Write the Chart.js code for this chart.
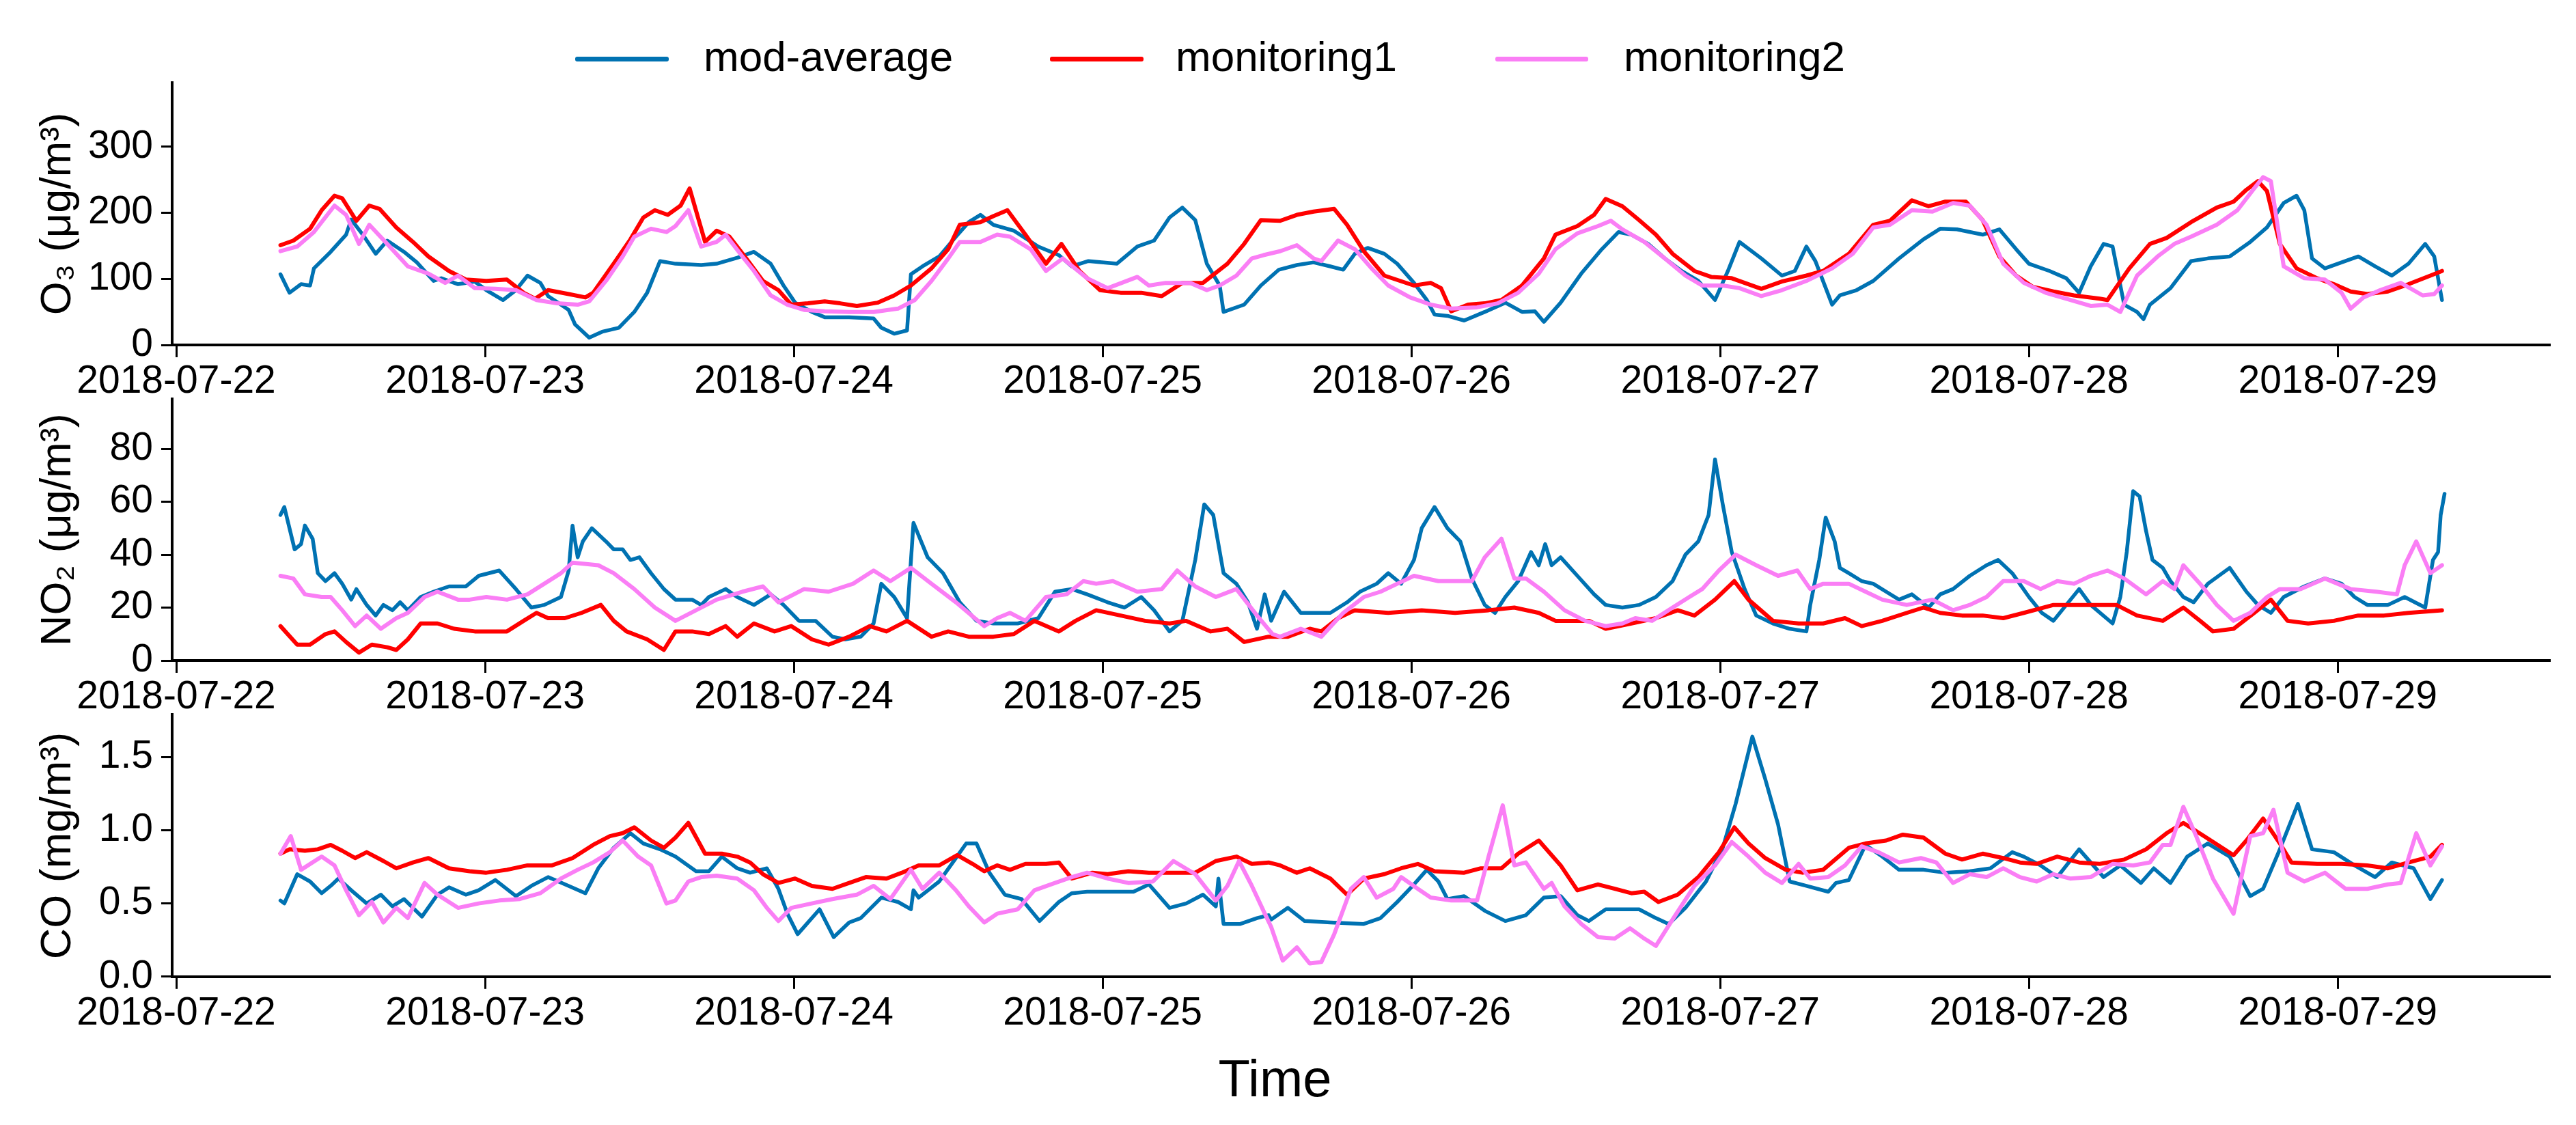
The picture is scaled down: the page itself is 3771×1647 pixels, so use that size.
<!DOCTYPE html>
<html><head><meta charset="utf-8">
<script src="https://cdn.jsdelivr.net/npm/chart.js@4.4.1/dist/chart.umd.min.js"></script>
<style>
html,body{margin:0;padding:0;background:#fff;}
#wrap{position:relative;width:3771px;height:1647px;overflow:hidden;background:#fff;font-family:"Liberation Sans",Arial,sans-serif;}
.cv{position:absolute;left:0;}
.lgl{position:absolute;height:7px;border-radius:3px;top:83px;}
.lgt{position:absolute;top:52px;font-size:62px;line-height:62px;color:#000;white-space:nowrap;}
</style></head><body>
<div id="wrap">
  <div class="lgl" style="left:842px;width:137px;background:#0072B2"></div>
  <div class="lgt" style="left:1030px">mod-average</div>
  <div class="lgl" style="left:1537px;width:137px;background:#FF0000"></div>
  <div class="lgt" style="left:1721px">monitoring1</div>
  <div class="lgl" style="left:2189px;width:136px;background:#FA7EF5"></div>
  <div class="lgt" style="left:2377px">monitoring2</div>
  <canvas id="c1" class="cv" width="3771" height="515" style="top:75px"></canvas>
  <canvas id="c2" class="cv" width="3771" height="514" style="top:538px"></canvas>
  <canvas id="c3" class="cv" width="3771" height="647" style="top:1000px"></canvas>
</div>
<script>
// x axis: hours since 2018-07-22 00:00
const xTickValues = [0, 24, 48, 72, 96, 120, 144, 168];
const xTickLabels = ['2018-07-22','2018-07-23','2018-07-24','2018-07-25','2018-07-26','2018-07-27','2018-07-28','2018-07-29'];
const seriesNames = ['mod-average', 'monitoring1', 'monitoring2'];
const seriesColors = ['#0072B2', '#FF0000', '#FA7EF5'];

// O3 (µg/m3)  [hour, value]
const o3Mod = [[8.1,107],[8.8,79],[9.7,92],[10.4,90],[10.7,116],[12,141],[13.2,167],[13.6,190],[14.5,167],[15.5,138],[16.4,158],[17.7,141],[18.7,125],[20,97],[20.6,101],[21.9,92],[23.2,96],[24.1,83],[25.4,68],[26.4,83],[27.3,105],[28.3,94],[28.9,74],[29.9,61],[30.5,53],[31,31],[32.1,11],[33.1,20],[34.4,26],[35.6,50],[36.6,79],[37.6,127],[38.8,123],[40.8,121],[42,123],[43.6,132],[44.9,141],[46.2,123],[47.2,90],[48.1,64],[49.4,50],[50.4,42],[52.3,42],[54.2,40],[54.8,26],[55.8,17],[56.8,22],[57.1,107],[58,119],[59.3,134],[60.6,164],[61.6,186],[62.5,197],[63.5,182],[65.1,173],[67,149],[68.6,136],[69.6,119],[70.9,127],[73.1,123],[74.7,149],[76,158],[77.2,193],[78.2,208],[79.2,189],[80.1,123],[81.1,90],[81.4,50],[83,61],[84.3,90],[85.7,114],[87.1,121],[88.4,125],[89.7,119],[90.7,114],[91.6,138],[92.6,147],[93.9,138],[94.9,123],[96.2,94],[97.2,68],[97.8,46],[98.8,44],[100.1,37],[101.7,50],[103.3,64],[104.6,50],[105.6,51],[106.3,35],[107.6,64],[109.2,108],[110.8,145],[112.1,171],[113.1,167],[114.4,153],[115.7,131],[117,112],[118.3,97],[119.6,68],[120.6,112],[121.5,156],[123.2,131],[124.8,105],[125.8,112],[126.7,149],[127.4,127],[128.7,61],[129.3,75],[130.6,83],[131.9,97],[133.9,131],[135.8,160],[137.1,176],[138.4,175],[140.4,167],[141.7,175],[143,145],[144,123],[145.6,112],[146.9,101],[147.9,79],[148.8,119],[149.8,153],[150.5,149],[151.4,61],[152.4,50],[152.9,39],[153.4,61],[155,86],[156.6,127],[157.9,131],[159.6,134],[161.2,156],[162.5,178],[163.8,215],[164.8,226],[165.4,204],[166,131],[167,116],[168.3,125],[169.6,134],[170.9,119],[172.2,105],[173.5,123],[174.8,153],[175.5,134],[176.1,68]];
const o3Mon1 = [[8.1,151],[9.1,158],[10.4,176],[11.3,204],[12.3,226],[12.9,222],[14,188],[15,211],[15.8,206],[17.1,178],[18.4,156],[19.6,134],[21.2,112],[22.5,99],[24.1,97],[25.7,99],[27,79],[27.9,70],[28.9,83],[30.5,77],[31.8,72],[32.4,79],[34,123],[35.3,160],[36.3,193],[37.2,204],[38.2,197],[39.2,211],[39.9,237],[41.1,156],[42,173],[43,164],[44.3,131],[45.6,97],[46.8,83],[47.8,61],[49.1,63],[50.4,66],[51.6,63],[52.9,59],[54.5,64],[55.8,75],[57.1,90],[58.7,116],[60,145],[60.9,182],[62.5,186],[63.5,195],[64.6,204],[66,167],[67.6,123],[68.8,153],[70.2,112],[71.8,83],[73.4,79],[75,79],[76.6,74],[78.2,94],[79.8,94],[81.7,123],[83,153],[84.3,189],[85.8,188],[87.1,197],[88.4,202],[90,206],[91,182],[92.3,142],[93.9,105],[96.2,90],[97.5,94],[98.3,86],[99.1,51],[100.4,61],[101.7,63],[103,68],[104.6,90],[106.3,131],[107.2,167],[108.9,180],[110.2,197],[111.1,221],[112.4,210],[113.7,189],[115,167],[116.3,138],[118,112],[119.3,103],[120.9,101],[123.2,85],[124.8,96],[126.7,105],[128,112],[130,138],[131.9,182],[133.2,188],[134.9,219],[136.2,210],[137.5,217],[139.1,217],[140.4,189],[141.7,134],[143,105],[144.3,88],[145.9,81],[147.5,75],[149.5,70],[150.1,68],[151.8,116],[153.4,153],[154.7,162],[156.6,186],[158.6,208],[159.9,217],[160.9,235],[161.8,248],[162.5,233],[163.5,153],[164.8,116],[166.4,101],[167.7,92],[169,81],[170.3,77],[171.9,81],[173.5,92],[175.2,105],[176.1,112]];
const o3Mon2 = [[8.1,142],[9.4,149],[10.7,171],[12.3,211],[13.2,197],[14.2,153],[15,182],[16.4,153],[18,119],[19.6,108],[20.9,94],[21.9,105],[23.2,86],[24.8,85],[26.4,83],[28,68],[29.6,63],[31.2,61],[32.1,66],[33.4,97],[34.7,134],[35.6,164],[36.9,176],[38.1,171],[38.8,180],[39.8,204],[40.8,149],[42,156],[42.7,167],[44,134],[44.9,112],[46.2,75],[47.5,61],[48.8,53],[50.4,51],[52.3,50],[54.2,50],[56.1,55],[57.4,68],[58.7,97],[60,131],[60.9,156],[62.5,156],[63.8,167],[64.8,164],[66.4,145],[67.6,112],[68.9,131],[70.8,101],[72.4,86],[74.7,103],[75.6,90],[76.9,94],[78.8,94],[80.1,83],[81.1,90],[82.4,105],[83.6,131],[84.5,136],[85.8,142],[87.1,151],[88.4,131],[89,127],[90.3,158],[91.6,145],[92.9,116],[94.2,90],[95.9,72],[97.5,61],[99.1,55],[101.1,57],[102.7,63],[104.3,79],[105.9,108],[107.2,145],[108.9,169],[110.5,180],[111.5,188],[112.4,175],[114.1,156],[115.7,131],[117.3,105],[118.6,90],[120.2,90],[121.5,86],[123.2,74],[124.8,83],[126.7,97],[128.7,116],[130.3,138],[131.9,178],[133.2,182],[134.9,204],[136.5,202],[138.1,215],[139.4,211],[140.7,182],[142,123],[143.6,94],[145.3,79],[146.9,70],[148.8,59],[150.1,61],[151.1,50],[152.4,105],[154,134],[155.3,153],[156.6,164],[158.6,182],[160.2,204],[161.5,237],[162.2,254],[162.8,248],[163.8,119],[165.4,101],[167,99],[168.3,79],[169,55],[170,72],[171.3,83],[172.9,94],[174.6,75],[175.5,77],[176.1,90]];

// NO2 (µg/m3)
const no2Mod = [[8.1,55],[8.4,58],[9.2,42],[9.7,44],[10,51],[10.6,46],[11,33],[11.6,30],[12.3,33],[12.9,29],[13.6,23],[14,27],[14.8,21],[15.5,17],[16.1,21],[16.8,19],[17.4,22],[18,19],[19,24],[20,26],[21.2,28],[22.5,28],[23.5,32],[25.1,34],[26.4,27],[27.6,20],[28.6,21],[29.9,24],[30.5,34],[30.8,51],[31.2,39],[31.6,45],[32.3,50],[33.4,45],[34,42],[34.7,42],[35.3,38],[36,39],[36.9,33],[37.9,27],[38.8,23],[40.1,23],[40.8,21],[41.4,24],[42.7,27],[43.6,24],[44.9,21],[46.2,25],[47.2,21],[48.4,15],[49.7,15],[51,9],[52,8],[53.2,9],[54.2,14],[54.8,29],[55.8,24],[56.8,16],[57.3,52],[58.4,39],[59.6,33],[60.9,22],[62.2,15],[63.5,14],[65.4,14],[67,16],[68.3,26],[69.6,27],[70.8,25],[72.4,22],[73.7,20],[75,24],[76,19],[77.2,11],[78.2,15],[79.2,38],[79.9,59],[80.6,55],[81.4,33],[82.4,29],[83.3,22],[84,12],[84.6,25],[85.1,15],[86.1,26],[87.4,18],[89.7,18],[91,22],[92,26],[93.3,29],[94.2,33],[95.2,29],[96.2,38],[96.8,50],[97.8,58],[98.8,50],[99.8,45],[100.7,31],[101.7,21],[102.5,18],[103.3,24],[104.3,30],[105.3,41],[105.9,36],[106.4,44],[106.9,36],[107.6,39],[108.9,32],[110.2,25],[111.1,21],[112.4,20],[113.7,21],[115,24],[116.3,30],[117.3,40],[118.3,45],[119.1,55],[119.6,76],[120.2,59],[120.9,41],[121.9,27],[122.8,17],[124.1,14],[125.4,12],[126.7,11],[127,21],[127.7,38],[128.2,54],[128.9,45],[129.3,35],[130,33],[131,30],[131.9,29],[132.9,26],[133.9,23],[134.9,25],[136.2,20],[137.1,25],[138.1,27],[139.4,32],[140.7,36],[141.6,38],[142.7,33],[144,24],[145,18],[145.9,15],[146.9,21],[147.9,27],[148.8,21],[150.5,14],[151.1,24],[151.6,41],[152.1,64],[152.6,62],[153.1,49],[153.6,38],[154.4,35],[155,30],[156,24],[156.8,22],[157.9,29],[159.6,35],[160.9,26],[161.8,21],[162.8,18],[163.8,24],[165.4,28],[167,31],[168.3,29],[169.3,24],[170.3,21],[171.9,21],[173.2,24],[174.8,20],[175.4,38],[175.8,41],[176,55],[176.3,63]];
const no2Mon1 = [[8.1,13],[9.4,6],[10.4,6],[11.6,10],[12.3,11],[13.2,7],[14.2,3],[15.2,6],[16.4,5],[17.1,4],[18,8],[19,14],[20.3,14],[21.6,12],[23.2,11],[24.8,11],[25.7,11],[27,15],[28,18],[28.9,16],[30.2,16],[31.5,18],[33,21],[34,15],[35,11],[36.6,8],[37.9,4],[38.8,11],[40.1,11],[41.4,10],[42.7,13],[43.6,9],[44.9,14],[46.5,11],[47.8,13],[49.4,8],[50.7,6],[52.3,9],[53.9,13],[55.2,11],[56.8,15],[58.7,9],[60,11],[61.6,9],[63.5,9],[65.1,10],[66.7,15],[68.6,11],[69.9,15],[71.5,19],[73.4,17],[75.3,15],[77.2,14],[78.5,15],[80.4,11],[81.7,12],[83,7],[84.9,9],[86.4,9],[88.1,12],[89,11],[90.3,16],[91.6,19],[94.2,18],[96.8,19],[99.4,18],[102,19],[104,20],[105.9,18],[107.2,15],[109.8,15],[111.1,12],[113.1,14],[115,16],[116.7,19],[118,17],[119.6,23],[121.1,30],[122.2,23],[124.1,15],[126.1,14],[128,14],[129.7,16],[131,13],[132.6,15],[134.5,18],[135.8,20],[137.1,18],[138.8,17],[140.4,17],[142,16],[143.6,18],[145.9,21],[148.5,21],[150.8,21],[152.4,17],[154.4,15],[156,20],[157.3,15],[158.3,11],[159.9,12],[161.5,18],[162.8,23],[164.1,15],[165.7,14],[167.7,15],[169.6,17],[171.6,17],[173.5,18],[176.1,19]];
const no2Mon2 = [[8.1,32],[9.1,31],[10,25],[11.3,24],[12,24],[12.9,19],[13.9,13],[14.8,17],[15.9,12],[17.1,16],[18,18],[19.3,24],[20.3,26],[21.9,23],[22.8,23],[24.1,24],[25.7,23],[27.3,25],[28.6,29],[29.9,33],[30.8,37],[32.8,36],[34,33],[35.6,27],[37.2,20],[38.8,15],[40.4,19],[42,23],[44,26],[45.6,28],[46.8,22],[48.8,27],[50.7,26],[52.6,29],[54.2,34],[55.5,30],[57.1,35],[58.7,29],[60.6,22],[62.8,13],[63.8,16],[64.8,18],[66,15],[67.6,24],[69.2,25],[70.5,30],[71.5,29],[72.8,30],[74.7,26],[76.6,27],[77.8,34],[79.2,28],[80.8,24],[82.4,27],[84,17],[85.2,10],[85.8,9],[87.4,12],[89,9],[90.7,18],[92.3,24],[93.6,26],[94.9,29],[96.2,32],[98.1,30],[100.7,30],[101.7,39],[103,46],[104,31],[104.9,31],[106.3,26],[107.9,19],[109.5,15],[111.1,13],[112.4,14],[113.4,16],[114.7,15],[116.3,20],[117.6,24],[118.6,27],[119.9,34],[121.2,40],[122.8,36],[124.5,32],[126,34],[127,27],[128,29],[130,29],[131.3,26],[132.6,23],[134.5,21],[136.5,23],[138.1,19],[139.4,21],[140.7,24],[142,30],[143.6,30],[144.9,27],[146.2,30],[147.5,29],[148.8,32],[150.1,34],[151.4,31],[153.1,25],[154.4,30],[155.3,27],[156,36],[157.3,29],[158.6,21],[159.9,15],[161.2,18],[162.5,24],[163.5,27],[165.1,27],[167,31],[169,27],[171,26],[172.6,25],[173.2,36],[174.1,45],[175.2,33],[176.1,36]];

// CO (mg/m3)
const coMod = [[8.1,0.52],[8.4,0.50],[9.4,0.70],[10.4,0.65],[11.3,0.57],[12,0.62],[12.6,0.67],[13.6,0.59],[14.8,0.50],[15.9,0.56],[16.8,0.48],[17.7,0.53],[19.1,0.41],[20.3,0.56],[21.2,0.61],[22.5,0.56],[23.5,0.59],[24.8,0.66],[26.4,0.55],[27.6,0.62],[28.9,0.68],[30.5,0.62],[31.8,0.57],[32.8,0.74],[34,0.88],[35.3,0.98],[36.3,0.91],[37.6,0.87],[38.8,0.82],[40.4,0.72],[41.4,0.72],[42.4,0.82],[43.6,0.74],[44.6,0.71],[45.9,0.74],[46.8,0.60],[47.5,0.43],[48.3,0.29],[50,0.46],[51.1,0.27],[52.3,0.37],[53.2,0.40],[54.8,0.54],[56.1,0.51],[57.1,0.46],[57.3,0.59],[57.7,0.54],[59.3,0.65],[60.6,0.81],[61.4,0.91],[62.2,0.91],[63.2,0.71],[64.4,0.56],[65.7,0.53],[67.1,0.38],[68.6,0.51],[69.6,0.57],[70.8,0.58],[72.8,0.58],[74.4,0.58],[75.6,0.63],[77.2,0.47],[78.5,0.50],[79.8,0.56],[80.8,0.48],[81,0.67],[81.4,0.36],[82.7,0.36],[84,0.40],[84.9,0.42],[85.1,0.39],[86.4,0.47],[87.7,0.38],[89.7,0.37],[92.3,0.36],[93.6,0.40],[94.9,0.51],[96.2,0.63],[97.2,0.73],[98.1,0.65],[98.8,0.53],[100.1,0.55],[101.7,0.45],[103.3,0.38],[104.9,0.42],[106.3,0.54],[107.6,0.55],[108.9,0.42],[109.8,0.38],[111.1,0.46],[113.7,0.46],[115,0.40],[116,0.36],[117.3,0.47],[118.9,0.65],[120.2,0.88],[121.2,1.18],[122.5,1.64],[123.5,1.35],[124.5,1.04],[125.4,0.65],[126.7,0.62],[128.4,0.58],[129,0.64],[130,0.66],[131.3,0.90],[132.6,0.82],[133.9,0.73],[135.8,0.73],[137.5,0.71],[139.4,0.72],[141,0.74],[142.7,0.85],[143.6,0.82],[144.9,0.76],[146.2,0.68],[147.9,0.87],[149.8,0.68],[151.1,0.76],[152.7,0.64],[153.7,0.74],[155,0.64],[156.3,0.82],[157.9,0.91],[159.6,0.82],[161.2,0.55],[162.2,0.60],[163.5,0.87],[164.9,1.18],[166,0.87],[167.7,0.85],[169.3,0.76],[170.9,0.68],[172.2,0.78],[173.9,0.74],[175.2,0.53],[176.1,0.66]];
const coMon1 = [[8.1,0.84],[8.8,0.87],[10,0.86],[11,0.87],[12,0.90],[12.9,0.86],[13.9,0.81],[14.8,0.85],[16.1,0.79],[17.1,0.74],[18.4,0.78],[19.6,0.81],[21.2,0.74],[22.8,0.72],[24.1,0.71],[25.7,0.73],[27.3,0.76],[29.2,0.76],[30.8,0.81],[32.4,0.90],[33.7,0.96],[34.7,0.98],[35.6,1.02],[36.9,0.93],[37.9,0.88],[38.8,0.95],[39.8,1.05],[41.1,0.84],[42.4,0.84],[43.6,0.82],[44.6,0.78],[45.6,0.70],[46.8,0.64],[48.1,0.67],[49.4,0.62],[51,0.60],[52.3,0.64],[53.6,0.68],[55.2,0.67],[56.4,0.71],[57.7,0.76],[59.3,0.76],[60.7,0.83],[61.9,0.77],[62.8,0.72],[63.8,0.76],[64.8,0.73],[66,0.77],[67.6,0.77],[68.6,0.78],[69.6,0.67],[71.2,0.71],[72.4,0.70],[74,0.72],[75.6,0.71],[77.5,0.71],[79.2,0.71],[80.8,0.79],[82.4,0.82],[83.6,0.77],[84.9,0.78],[85.8,0.76],[87.1,0.71],[88.1,0.74],[89.7,0.67],[91,0.56],[92.3,0.67],[93.9,0.70],[95.2,0.74],[96.5,0.77],[97.8,0.72],[100.1,0.71],[101.4,0.74],[103,0.74],[104.3,0.84],[105.9,0.93],[107.6,0.76],[108.9,0.59],[110.5,0.63],[111.8,0.60],[113.1,0.57],[114.1,0.58],[115.2,0.51],[116.7,0.56],[118.3,0.68],[119.9,0.85],[121.1,1.02],[122.2,0.91],[123.5,0.81],[125.1,0.73],[126.4,0.71],[128,0.73],[130,0.88],[131.3,0.91],[132.9,0.93],[134.2,0.97],[135.8,0.95],[137.5,0.84],[138.8,0.80],[140.4,0.84],[142,0.81],[143.3,0.78],[144.6,0.77],[146.2,0.82],[147.9,0.78],[149.5,0.77],[151.4,0.80],[153.1,0.87],[154.7,0.98],[156,1.05],[157.6,0.96],[159.9,0.83],[160.9,0.93],[162.2,1.08],[163.5,0.91],[164.4,0.78],[166.4,0.77],[168.3,0.77],[170.3,0.76],[171.9,0.74],[173.5,0.78],[175.2,0.82],[176.1,0.90]];
const coMon2 = [[8.1,0.84],[8.9,0.96],[9.7,0.73],[11.3,0.82],[12.3,0.76],[13.2,0.59],[14.2,0.42],[15.2,0.51],[16.1,0.37],[17.1,0.47],[18,0.40],[19.3,0.64],[20.3,0.56],[21.9,0.47],[23.5,0.50],[25.1,0.52],[26.7,0.53],[28.3,0.57],[29.9,0.67],[31.2,0.73],[32.4,0.78],[33.7,0.85],[34.7,0.93],[35.9,0.82],[36.9,0.76],[38.1,0.50],[38.8,0.52],[39.8,0.65],[40.8,0.68],[42,0.69],[43.6,0.67],[44.9,0.59],[45.9,0.47],[46.8,0.38],[47.8,0.47],[49.4,0.50],[51,0.53],[52.9,0.56],[54.2,0.62],[55.5,0.53],[57.1,0.73],[58,0.60],[59.3,0.71],[60.6,0.59],[61.6,0.48],[62.8,0.37],[63.8,0.43],[65.4,0.46],[66.7,0.59],[68.3,0.64],[69.6,0.68],[70.8,0.71],[72.4,0.67],[74,0.64],[75.9,0.65],[77.5,0.79],[79.2,0.70],[80.8,0.52],[81.7,0.62],[82.6,0.79],[83.6,0.62],[84.5,0.45],[85.1,0.34],[86,0.11],[87.1,0.20],[88.1,0.09],[89,0.10],[90,0.29],[91.3,0.60],[92.3,0.68],[93.3,0.54],[94.6,0.60],[95.2,0.68],[96.5,0.60],[97.5,0.54],[99.1,0.52],[101.1,0.52],[102,0.82],[103.1,1.17],[104,0.76],[104.9,0.78],[106.3,0.60],[106.9,0.64],[107.9,0.48],[109.2,0.36],[110.5,0.27],[111.8,0.26],[113,0.33],[114.1,0.26],[115,0.21],[116.3,0.39],[118,0.62],[119.6,0.76],[120.9,0.92],[122.2,0.82],[123.5,0.71],[124.8,0.64],[126.1,0.77],[127,0.67],[128.4,0.68],[129.7,0.76],[131,0.89],[132.3,0.85],[133.9,0.78],[135.6,0.81],[136.8,0.78],[138.1,0.64],[139.4,0.70],[140.7,0.68],[142,0.74],[143.3,0.68],[144.6,0.65],[145.9,0.70],[147.2,0.67],[148.8,0.68],[150.5,0.77],[152.1,0.76],[153.4,0.78],[154.4,0.90],[155,0.90],[156,1.16],[157,0.96],[158.3,0.67],[159.9,0.43],[161.2,0.96],[162.2,0.98],[163,1.14],[164.1,0.71],[165.4,0.65],[167,0.71],[168.6,0.60],[170.3,0.60],[171.9,0.63],[172.9,0.64],[174.1,0.98],[175.2,0.76],[176.1,0.89]];

// y-axis ticks
const o3Ticks = [0, 100, 200, 300];
const no2Ticks = [0, 20, 40, 60, 80];
const coTicks = [0, 0.5, 1.0, 1.5];

Chart.defaults.font.family = "'Liberation Sans', Arial, sans-serif";
Chart.defaults.color = '#000';

function makePanel(id, series, yMax, yTicks, yFmt, yTitle, bottom) {
  const datasets = series.map((s, i) => ({
    label: seriesNames[i],
    data: s.map(p => ({x: p[0], y: p[1]})),
    borderColor: seriesColors[i],
    backgroundColor: seriesColors[i],
    borderWidth: i === 0 ? 5.5 : 6,
    pointRadius: 0,
    tension: 0,
    borderJoinStyle: 'round',
    borderCapStyle: 'round',
    order: 2 - i
  }));
  const plugins = {
    legend: {display: false},
    tooltip: {enabled: false},
    title: bottom ? {display: true, text: 'Time', position: 'bottom', font: {size: 76, weight: 'normal'}, color: '#000', padding: {top: 24, bottom: 0}} : {display: false}
  };
  return new Chart(document.getElementById(id), {
    type: 'line',
    data: {datasets},
    options: {
      responsive: false,
      devicePixelRatio: 1,
      animation: false,
      layout: {padding: {left: 0, right: 38, top: 45, bottom: bottom ? 17 : 0}},
      plugins,
      scales: {
        x: {
          type: 'linear', min: -0.32, max: 184.5,
          afterFit: s => { s.height = 85; },
          afterBuildTicks: s => { s.ticks = xTickValues.map(v => ({value: v})); },
          ticks: {autoSkip: false, maxRotation: 0, padding: 2, font: {size: 57}, color: '#000',
                  callback: (v) => xTickLabels[xTickValues.indexOf(v)]},
          grid: {display: true, drawOnChartArea: false, drawTicks: true, tickLength: 18, tickColor: '#000', tickWidth: 3},
          border: {display: true, color: '#000', width: 4}
        },
        y: {
          type: 'linear', min: 0, max: yMax,
          afterFit: s => { s.width = 252; },
          afterBuildTicks: s => { s.ticks = yTicks.map(v => ({value: v})); },
          ticks: {padding: 12, font: {size: 57}, color: '#000', callback: yFmt},
          grid: {display: true, drawOnChartArea: false, drawTicks: true, tickLength: 16, tickColor: '#000', tickWidth: 3},
          border: {display: true, color: '#000', width: 4},
          title: {display: true, text: yTitle, font: {size: 63}, color: '#000', padding: {top: 48, bottom: 0}}
        }
      }
    }
  });
}

makePanel('c1', [o3Mod, o3Mon1, o3Mon2], 397, o3Ticks, v => String(v), 'O\u2083 (\u03bcg/m\u00b3)', false);
makePanel('c2', [no2Mod, no2Mon1, no2Mon2], 98.8, no2Ticks, v => String(v), 'NO\u2082 (\u03bcg/m\u00b3)', false);
makePanel('c3', [coMod, coMon1, coMon2], 1.79, coTicks, v => Number(v).toFixed(1), 'CO (mg/m\u00b3)', true);
</script>
</body></html>
